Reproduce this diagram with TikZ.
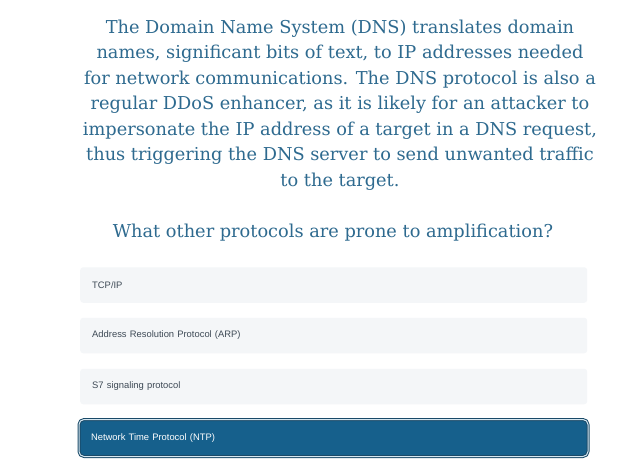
\documentclass[tikz,border=0pt]{standalone}
\usepackage{fontspec}
\setmainfont{DejaVu Serif}
\setsansfont{Liberation Sans}
\definecolor{headblue}{RGB}{46,106,143}
\definecolor{optgray}{RGB}{244,246,248}
\definecolor{opttext}{RGB}{62,74,86}
\definecolor{selblue}{RGB}{22,96,140}
\definecolor{selrim}{RGB}{26,74,104}
\definecolor{selline}{RGB}{214,232,242}
\begin{document}
\begin{tikzpicture}[x=1pt, y=-1pt, line join=round, line cap=round,
    heading/.style={text=headblue, align=center, inner sep=0pt, font=\rmfamily\fontsize{17.75}{25.5}\selectfont},
    option/.style={anchor=west, fill=optgray, rounded corners=3pt, minimum height=35.5pt, inner xsep=12pt, inner ysep=0pt, text width=483pt, align=left, text=opttext, font=\sffamily\fontsize{9.4}{11}\selectfont},
    chosen/.style={option, fill=selblue, draw=selrim, line width=1pt, double=selline, double distance=1pt, rounded corners=5pt, minimum height=37pt, text width=485pt, inner xsep=12pt, text=white}]
  \useasboundingbox (0,0) rectangle (640,459);
  \fill[white] (0,0) rectangle (640,459);
  % question text
  \node[heading, anchor=north] (dns) at (340,19.5) {The Domain Name System (DNS) translates domain\\
    names, significant bits of text, to IP addresses needed\\
    for network communications. The DNS protocol is also a\\
    regular DDoS enhancer, as it is likely for an attacker to\\
    impersonate the IP address of a target in a DNS request,\\
    thus triggering the DNS server to send unwanted traffic\\
    to the target.};
  \node[heading, anchor=base] (ask) at (333,237) {What other protocols are prone to amplification?};
  % answers
  \node[option] (tcp) at (80,285) {TCP/IP};
  \node[option] (arp) at (80,335.5) {Address Resolution Protocol (ARP)};
  \node[option] (ss7) at (80,386.5) {S7 signaling protocol};
  \node[chosen] (ntp) at (78.5,438) {Network Time Protocol (NTP)};
\end{tikzpicture}
\end{document}
